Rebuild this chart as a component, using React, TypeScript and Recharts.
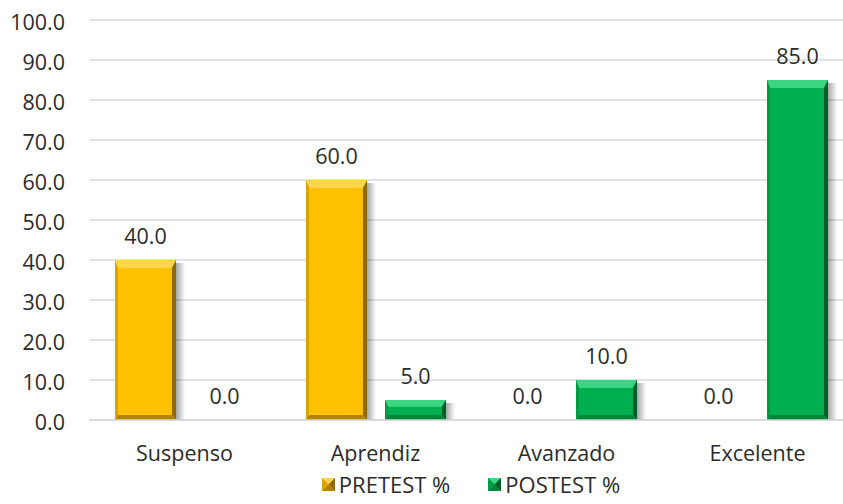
import React from 'react';
import { BarChart, Bar, XAxis, YAxis, CartesianGrid, Legend, LabelList } from 'recharts';

const categories = ['Suspenso', 'Aprendiz', 'Avanzado', 'Excelente'];
const pretest = [40, 60, 0, 0];
const postest = [0, 5, 10, 85];
const yTicks = [0, 10, 20, 30, 40, 50, 60, 70, 80, 90, 100];

const data = categories.map((name, i) => ({ name, pre: pretest[i], post: postest[i] }));

const FONT = '"Open Sans", sans-serif';
const TEXT = '#2b2b2b';

const YELLOW = { base: '#FFC000', top: '#FFD54D', right: '#8F6A00', bottom: '#B08400', left: '#D9A300' };
const GREEN = { base: '#00B050', top: '#3CD583', right: '#005F2B', bottom: '#00853C', left: '#009A45' };

type Pal = typeof YELLOW;

// excel-ish bevelled bar with a soft shadow on the right
const bevelShape = (c: Pal) => (props: any) => {
    const { x, y, width: w, height: h } = props;
    if (!h || h <= 0) return <g />;
    const t = Math.min(8, h / 3);
    const r = 4;
    const b = Math.min(5, h / 3);
    const l = 3;
    return (
        <g>
            <rect x={x + w} y={y + 3} width={9} height={h - 3} fill="url(#barShadow)" />
            <rect x={x} y={y} width={w} height={h} fill={c.base} />
            <polygon points={`${x},${y} ${x + w},${y} ${x + w - r},${y + t} ${x + l},${y + t}`} fill={c.top} />
            <polygon points={`${x + w},${y} ${x + w},${y + h} ${x + w - r},${y + h - b} ${x + w - r},${y + t}`} fill={c.right} />
            <polygon points={`${x},${y + h} ${x + w},${y + h} ${x + w - r},${y + h - b} ${x + l},${y + h - b}`} fill={c.bottom} />
            <polygon points={`${x},${y} ${x + l},${y + t} ${x + l},${y + h - b} ${x},${y + h}`} fill={c.left} />
        </g>
    );
};

const Marker: React.FC<{ c: Pal }> = ({ c }) => (
    <svg width={13} height={13} style={{ marginRight: 4 }}>
        <rect x={0} y={0} width={13} height={13} fill={c.base} />
        <polygon points="0,0 13,0 6.5,6.5" fill={c.top} />
        <polygon points="13,0 13,13 6.5,6.5" fill={c.right} />
        <polygon points="0,13 13,13 6.5,6.5" fill={c.bottom} />
        <polygon points="0,0 0,13 6.5,6.5" fill={c.left} />
    </svg>
);

const legendContent = () => (
    <div style={{ display: 'flex', justifyContent: 'center', alignItems: 'center', fontFamily: FONT, fontSize: 22, color: TEXT, height: 20, marginTop: -2 }}>
        <span style={{ display: 'flex', alignItems: 'center', marginRight: 38 }}><Marker c={YELLOW} />PRETEST %</span>
        <span style={{ display: 'flex', alignItems: 'center' }}><Marker c={GREEN} />POSTEST %</span>
    </div>
);

const labelStyle = { fontFamily: FONT, fontSize: 21.5, fill: TEXT };

export default function App() {
    return (
        <div style={{ position: 'absolute', left: 0, top: 0, width: 843, height: 504, overflow: 'hidden', background: '#fff' }}>
            <BarChart width={853} height={504} data={data} margin={{ top: 20, right: 0, bottom: 0, left: 0 }}
                barSize={61} barGap={18}>
                <defs>
                    <linearGradient id="barShadow" x1="0" y1="0" x2="1" y2="0">
                        <stop offset="0%" stopColor="#000" stopOpacity={0.35} />
                        <stop offset="100%" stopColor="#000" stopOpacity={0} />
                    </linearGradient>
                </defs>
                <CartesianGrid vertical={false} stroke="#d9d9d9" strokeWidth={1.5} />
                <XAxis dataKey="name" height={56} axisLine={{ stroke: '#d9d9d9', strokeWidth: 1.5 }} tickLine={false}
                    tickMargin={20} tick={{ ...labelStyle }} interval={0} />
                <YAxis width={89} domain={[0, 100]} ticks={yTicks} axisLine={false} tickLine={false} tickSize={0}
                    tickMargin={24} tick={{ ...labelStyle, dy: 2 }} tickFormatter={(v: number) => v.toFixed(1)} />
                <Legend verticalAlign="bottom" height={28} content={legendContent} wrapperStyle={{ left: 89, width: 764 }} />
                <Bar dataKey="pre" name="PRETEST %" fill={YELLOW.base} shape={bevelShape(YELLOW)} isAnimationActive={false}>
                    <LabelList dataKey="pre" position="top" offset={16} formatter={(v: any) => Number(v).toFixed(1)} style={labelStyle} />
                </Bar>
                <Bar dataKey="post" name="POSTEST %" fill={GREEN.base} shape={bevelShape(GREEN)} isAnimationActive={false}>
                    <LabelList dataKey="post" position="top" offset={16} formatter={(v: any) => Number(v).toFixed(1)} style={labelStyle} />
                </Bar>
            </BarChart>
        </div>
    );
}
